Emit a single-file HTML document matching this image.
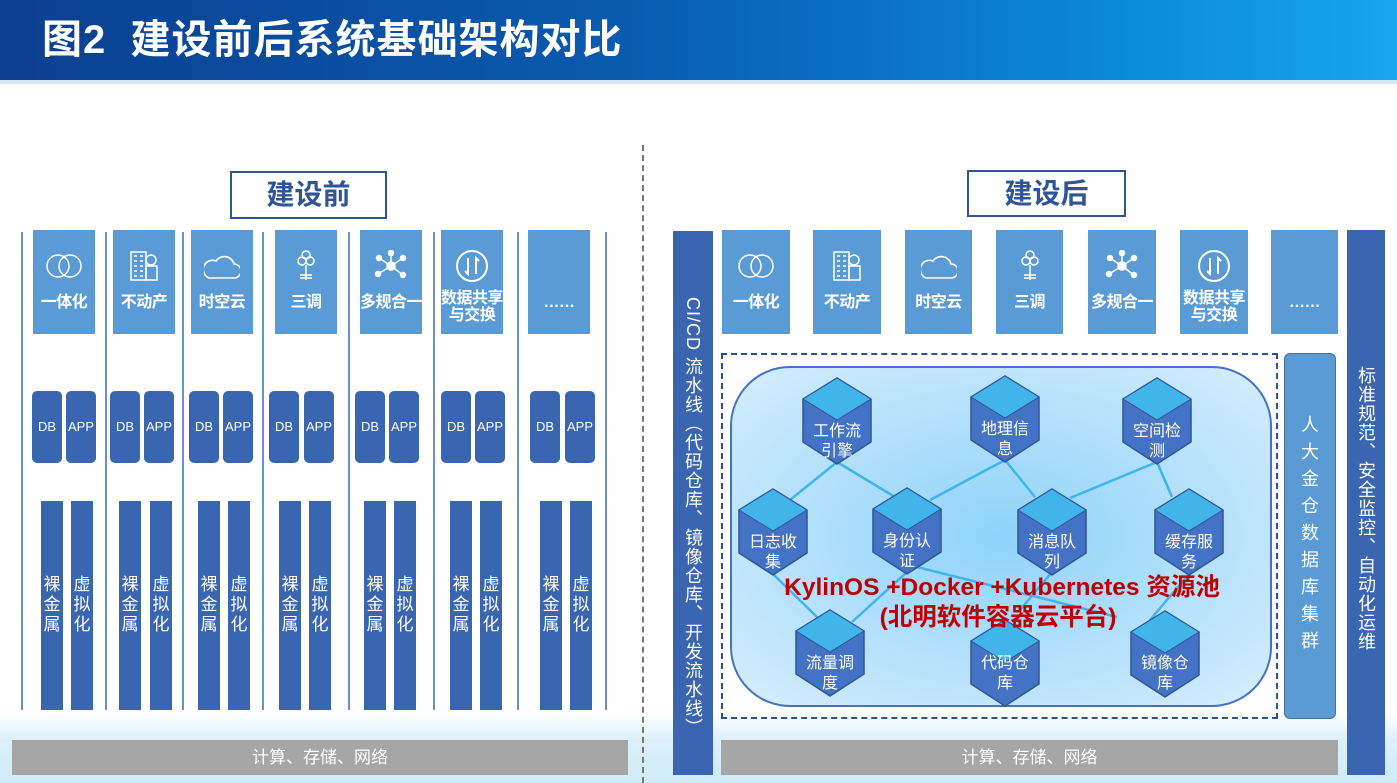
<!DOCTYPE html>
<html><head><meta charset="utf-8">
<style>
*{margin:0;padding:0;box-sizing:border-box}
body{width:1397px;height:783px;position:relative;overflow:hidden;background:#fff;font-family:"Liberation Sans","Noto Sans CJK SC",sans-serif}
.a{position:absolute}
.title{left:0;top:0;width:1397px;height:80px;background:linear-gradient(90deg,#0b3f8f 0%,#0a5bb0 45%,#0a8ad6 80%,#19a6ea 100%);color:#fff;font-weight:bold;font-size:40px;line-height:80px;padding-left:42px;letter-spacing:1px}
.tl{left:0;top:80px;width:1397px;height:4px;background:#d6e9f7}
.hd{border:2px solid #2F5597;color:#2F5597;font-weight:bold;font-size:28px;text-align:center;background:#fff}
.vl{width:2px;background:#6d8fd0;top:232px;height:478px}
.tile{background:#5B9BD5;color:#fff;font-weight:bold;font-size:16px;text-align:center;top:230px;height:104px}
.tile .t{position:absolute;left:-4px;right:-4px;top:64px;line-height:17px;letter-spacing:-0.5px}
.tile svg{position:absolute;left:50%;top:20px;margin-left:-18px}
.da{top:391px;height:72px;width:30px;background:#3A65B0;border-radius:5px;color:#fff;font-size:13px;line-height:72px;text-align:center}
.bar{top:501px;height:209px;width:22px;background:#3A65B0;color:#fff;font-size:17px;line-height:20px;text-align:center;padding-top:74px}
.gray{background:#A6A6A6;color:#fff;font-size:17px;text-align:center;line-height:35px;top:740px;height:35px}
.vb{background:#3A65B0;color:#fff;font-size:18px;writing-mode:vertical-rl;display:flex;align-items:center;justify-content:flex-start;padding-top:65px;letter-spacing:1px}
</style></head><body>
<div class="a title">图2&nbsp;&nbsp;建设前后系统基础架构对比</div>
<div class="a tl"></div>
<div class="a" style="left:0;top:712px;width:1397px;height:71px;background:linear-gradient(180deg,#fff 0%,#dcf0fa 40%,#cfeaf7 100%)"></div>

<div class="a hd" style="left:230px;top:171px;width:157px;height:48px;line-height:44px">建设前</div>
<div class="a vl" style="left:21px"></div><div class="a vl" style="left:105px"></div><div class="a vl" style="left:182px"></div><div class="a vl" style="left:262px"></div><div class="a vl" style="left:348px"></div><div class="a vl" style="left:433px"></div><div class="a vl" style="left:517px"></div><div class="a vl" style="left:605px"></div>

<svg width="0" height="0" style="position:absolute">
<defs>
<g id="i1" fill="none" stroke="#fff" stroke-width="1.5"><circle cx="12" cy="16" r="11"/><circle cx="24" cy="16" r="11"/></g>
<g id="i2" fill="none" stroke="#fff" stroke-width="1.5"><rect x="5" y="2" width="15" height="28"/><rect x="20" y="16" width="11" height="14"/><circle cx="25" cy="10" r="5"/><path d="M8 6h3M14 6h3M8 11h3M14 11h3M8 16h3M14 16h3M8 21h3M14 21h3M8 26h3M14 26h3"/></g>
<g id="i3" fill="none" stroke="#fff" stroke-width="1.6"><path d="M5 28h25a7 7 0 0 0 0-14a10 10 0 0 0-18-3a8 8 0 0 0-7 17z"/></g>
<g id="i4" fill="none" stroke="#fff" stroke-width="1.5"><circle cx="18" cy="5" r="4"/><circle cx="14" cy="11" r="4"/><circle cx="22" cy="11" r="4"/><path d="M18 15v15M12 25h12M12 28h12"/></g>
<g id="i5" fill="#fff" stroke="#fff" stroke-width="1.5"><circle cx="18" cy="16" r="4"/><circle cx="6" cy="8" r="2.5"/><circle cx="30" cy="8" r="2.5"/><circle cx="5" cy="24" r="2.5"/><circle cx="30" cy="25" r="2.5"/><circle cx="18" cy="3" r="2.5"/><path d="M18 16L6 8M18 16L30 8M18 16L5 24M18 16L30 25M18 16V3"/></g>
<g id="i6" fill="none" stroke="#fff" stroke-width="2"><circle cx="18" cy="16" r="15"/><path d="M14 8v16l-3-3M22 24V8l3 3"/></g>
</defs></svg>

<div class="a tile" style="left:33px;width:62px"><svg width="36" height="32"><use href="#i1"/></svg><div class="t">一体化</div></div>
<div class="a tile" style="left:113px;width:62px"><svg width="36" height="32"><use href="#i2"/></svg><div class="t">不动产</div></div>
<div class="a tile" style="left:191px;width:62px"><svg width="36" height="32"><use href="#i3"/></svg><div class="t">时空云</div></div>
<div class="a tile" style="left:275px;width:62px"><svg width="36" height="32"><use href="#i4"/></svg><div class="t">三调</div></div>
<div class="a tile" style="left:360px;width:62px"><svg width="36" height="32"><use href="#i5"/></svg><div class="t">多规合一</div></div>
<div class="a tile" style="left:441px;width:62px"><svg width="36" height="32"><use href="#i6"/></svg><div class="t" style="top:60px">数据共享<br>与交换</div></div>
<div class="a tile" style="left:528px;width:62px"><div class="t">……</div></div>

<div class="a da" style="left:32px">DB</div><div class="a da" style="left:66px">APP</div>
<div class="a da" style="left:110px">DB</div><div class="a da" style="left:144px">APP</div>
<div class="a da" style="left:189px">DB</div><div class="a da" style="left:223px">APP</div>
<div class="a da" style="left:269px">DB</div><div class="a da" style="left:304px">APP</div>
<div class="a da" style="left:355px">DB</div><div class="a da" style="left:389px">APP</div>
<div class="a da" style="left:441px">DB</div><div class="a da" style="left:475px">APP</div>
<div class="a da" style="left:530px">DB</div><div class="a da" style="left:565px">APP</div>

<div class="a bar" style="left:41px">裸<br>金<br>属</div><div class="a bar" style="left:71px">虚<br>拟<br>化</div>
<div class="a bar" style="left:119px">裸<br>金<br>属</div><div class="a bar" style="left:150px">虚<br>拟<br>化</div>
<div class="a bar" style="left:198px">裸<br>金<br>属</div><div class="a bar" style="left:228px">虚<br>拟<br>化</div>
<div class="a bar" style="left:279px">裸<br>金<br>属</div><div class="a bar" style="left:309px">虚<br>拟<br>化</div>
<div class="a bar" style="left:364px">裸<br>金<br>属</div><div class="a bar" style="left:394px">虚<br>拟<br>化</div>
<div class="a bar" style="left:450px">裸<br>金<br>属</div><div class="a bar" style="left:480px">虚<br>拟<br>化</div>
<div class="a bar" style="left:540px">裸<br>金<br>属</div><div class="a bar" style="left:570px">虚<br>拟<br>化</div>

<div class="a gray" style="left:12px;width:616px">计算、存储、网络</div>

<div class="a" style="left:642px;top:145px;height:638px;border-left:2px dashed #777"></div>

<div class="a hd" style="left:967px;top:170px;width:159px;height:47px;line-height:43px">建设后</div>
<div class="a vb" style="left:673px;top:231px;width:40px;height:544px;padding-top:66px">CI/CD 流水线（代码仓库、镜像仓库、开发流水线）</div>
<div class="a vb" style="left:1347px;top:230px;width:38px;height:545px;padding-top:136px">标准规范、安全监控、自动化运维</div>

<div class="a tile" style="left:722px;width:68px"><svg width="36" height="32"><use href="#i1"/></svg><div class="t">一体化</div></div>
<div class="a tile" style="left:813px;width:68px"><svg width="36" height="32"><use href="#i2"/></svg><div class="t">不动产</div></div>
<div class="a tile" style="left:905px;width:67px"><svg width="36" height="32"><use href="#i3"/></svg><div class="t">时空云</div></div>
<div class="a tile" style="left:996px;width:67px"><svg width="36" height="32"><use href="#i4"/></svg><div class="t">三调</div></div>
<div class="a tile" style="left:1088px;width:68px"><svg width="36" height="32"><use href="#i5"/></svg><div class="t">多规合一</div></div>
<div class="a tile" style="left:1180px;width:68px"><svg width="36" height="32"><use href="#i6"/></svg><div class="t" style="top:60px">数据共享<br>与交换</div></div>
<div class="a tile" style="left:1271px;width:67px"><div class="t">……</div></div>

<div class="a" style="left:721px;top:353px;width:557px;height:366px;border:2px dashed #2F4F8F"></div>
<div class="a" style="left:730px;top:366px;width:542px;height:341px;border:2px solid #4472C4;border-radius:60px;background:radial-gradient(ellipse at 50% 50%,#8fd3fa 0%,#b5e1fb 55%,#d6eefc 100%)"></div>
<div class="a" style="left:1284px;top:353px;width:52px;height:366px;background:#5B9BD5;border:1px solid #41719C;border-radius:6px;color:#fff;font-size:18px;line-height:27px;text-align:center;padding-top:58px">人<br>大<br>金<br>仓<br>数<br>据<br>库<br>集<br>群</div>

<svg class="a" style="left:0;top:0" width="1397" height="783" font-family="Liberation Sans,Noto Sans CJK SC,sans-serif">
<defs>
<g id="cb"><polygon points="0,0 34,21 34,64 0,86 -34,64 -34,21" fill="#4472C4" stroke="#2F5597" stroke-width="1.5"/><polygon points="0,0 34,21 0,42 -34,21" fill="#41B4EA" stroke="#2F5597" stroke-width="1"/></g>
</defs>
<g stroke="#41B4EA" stroke-width="2.5">
<line x1="837" y1="462" x2="790" y2="500"/><line x1="837" y1="462" x2="895" y2="497"/>
<line x1="1005" y1="460" x2="930" y2="500"/><line x1="1005" y1="460" x2="1035" y2="497"/>
<line x1="1157" y1="462" x2="1070" y2="498"/><line x1="1157" y1="462" x2="1172" y2="497"/>
<line x1="773" y1="574" x2="818" y2="618"/><line x1="907" y1="572" x2="852" y2="622"/>
<line x1="917" y1="567" x2="1117" y2="617"/><line x1="1052" y1="572" x2="1020" y2="610"/>
<line x1="1189" y1="574" x2="1150" y2="620"/>
</g>
<g font-size="16" fill="#fff" text-anchor="middle">
<use href="#cb" x="837" y="378"/><text x="837" y="436">工作流</text><text x="837" y="456">引擎</text>
<use href="#cb" x="1005" y="376"/><text x="1005" y="434">地理信</text><text x="1005" y="454">息</text>
<use href="#cb" x="1157" y="378"/><text x="1157" y="436">空间检</text><text x="1157" y="456">测</text>
<use href="#cb" x="773" y="489"/><text x="773" y="547">日志收</text><text x="773" y="567">集</text>
<use href="#cb" x="907" y="488"/><text x="907" y="546">身份认</text><text x="907" y="566">证</text>
<use href="#cb" x="1052" y="489"/><text x="1052" y="547">消息队</text><text x="1052" y="567">列</text>
<use href="#cb" x="1189" y="489"/><text x="1189" y="547">缓存服</text><text x="1189" y="567">务</text>
<use href="#cb" x="830" y="610"/><text x="830" y="668">流量调</text><text x="830" y="688">度</text>
<use href="#cb" x="1005" y="620"/><text x="1005" y="668">代码仓</text><text x="1005" y="688">库</text>
<use href="#cb" x="1165" y="611"/><text x="1165" y="668">镜像仓</text><text x="1165" y="688">库</text>
</g>
<g fill="#C00000" font-weight="bold" font-size="24.5" text-anchor="middle">
<text x="1002" y="595">KylinOS  +Docker  +Kubernetes 资源池</text>
<text x="998" y="625">(北明软件容器云平台)</text>
</g>
</svg>

<div class="a gray" style="left:721px;width:617px">计算、存储、网络</div>
</body></html>
